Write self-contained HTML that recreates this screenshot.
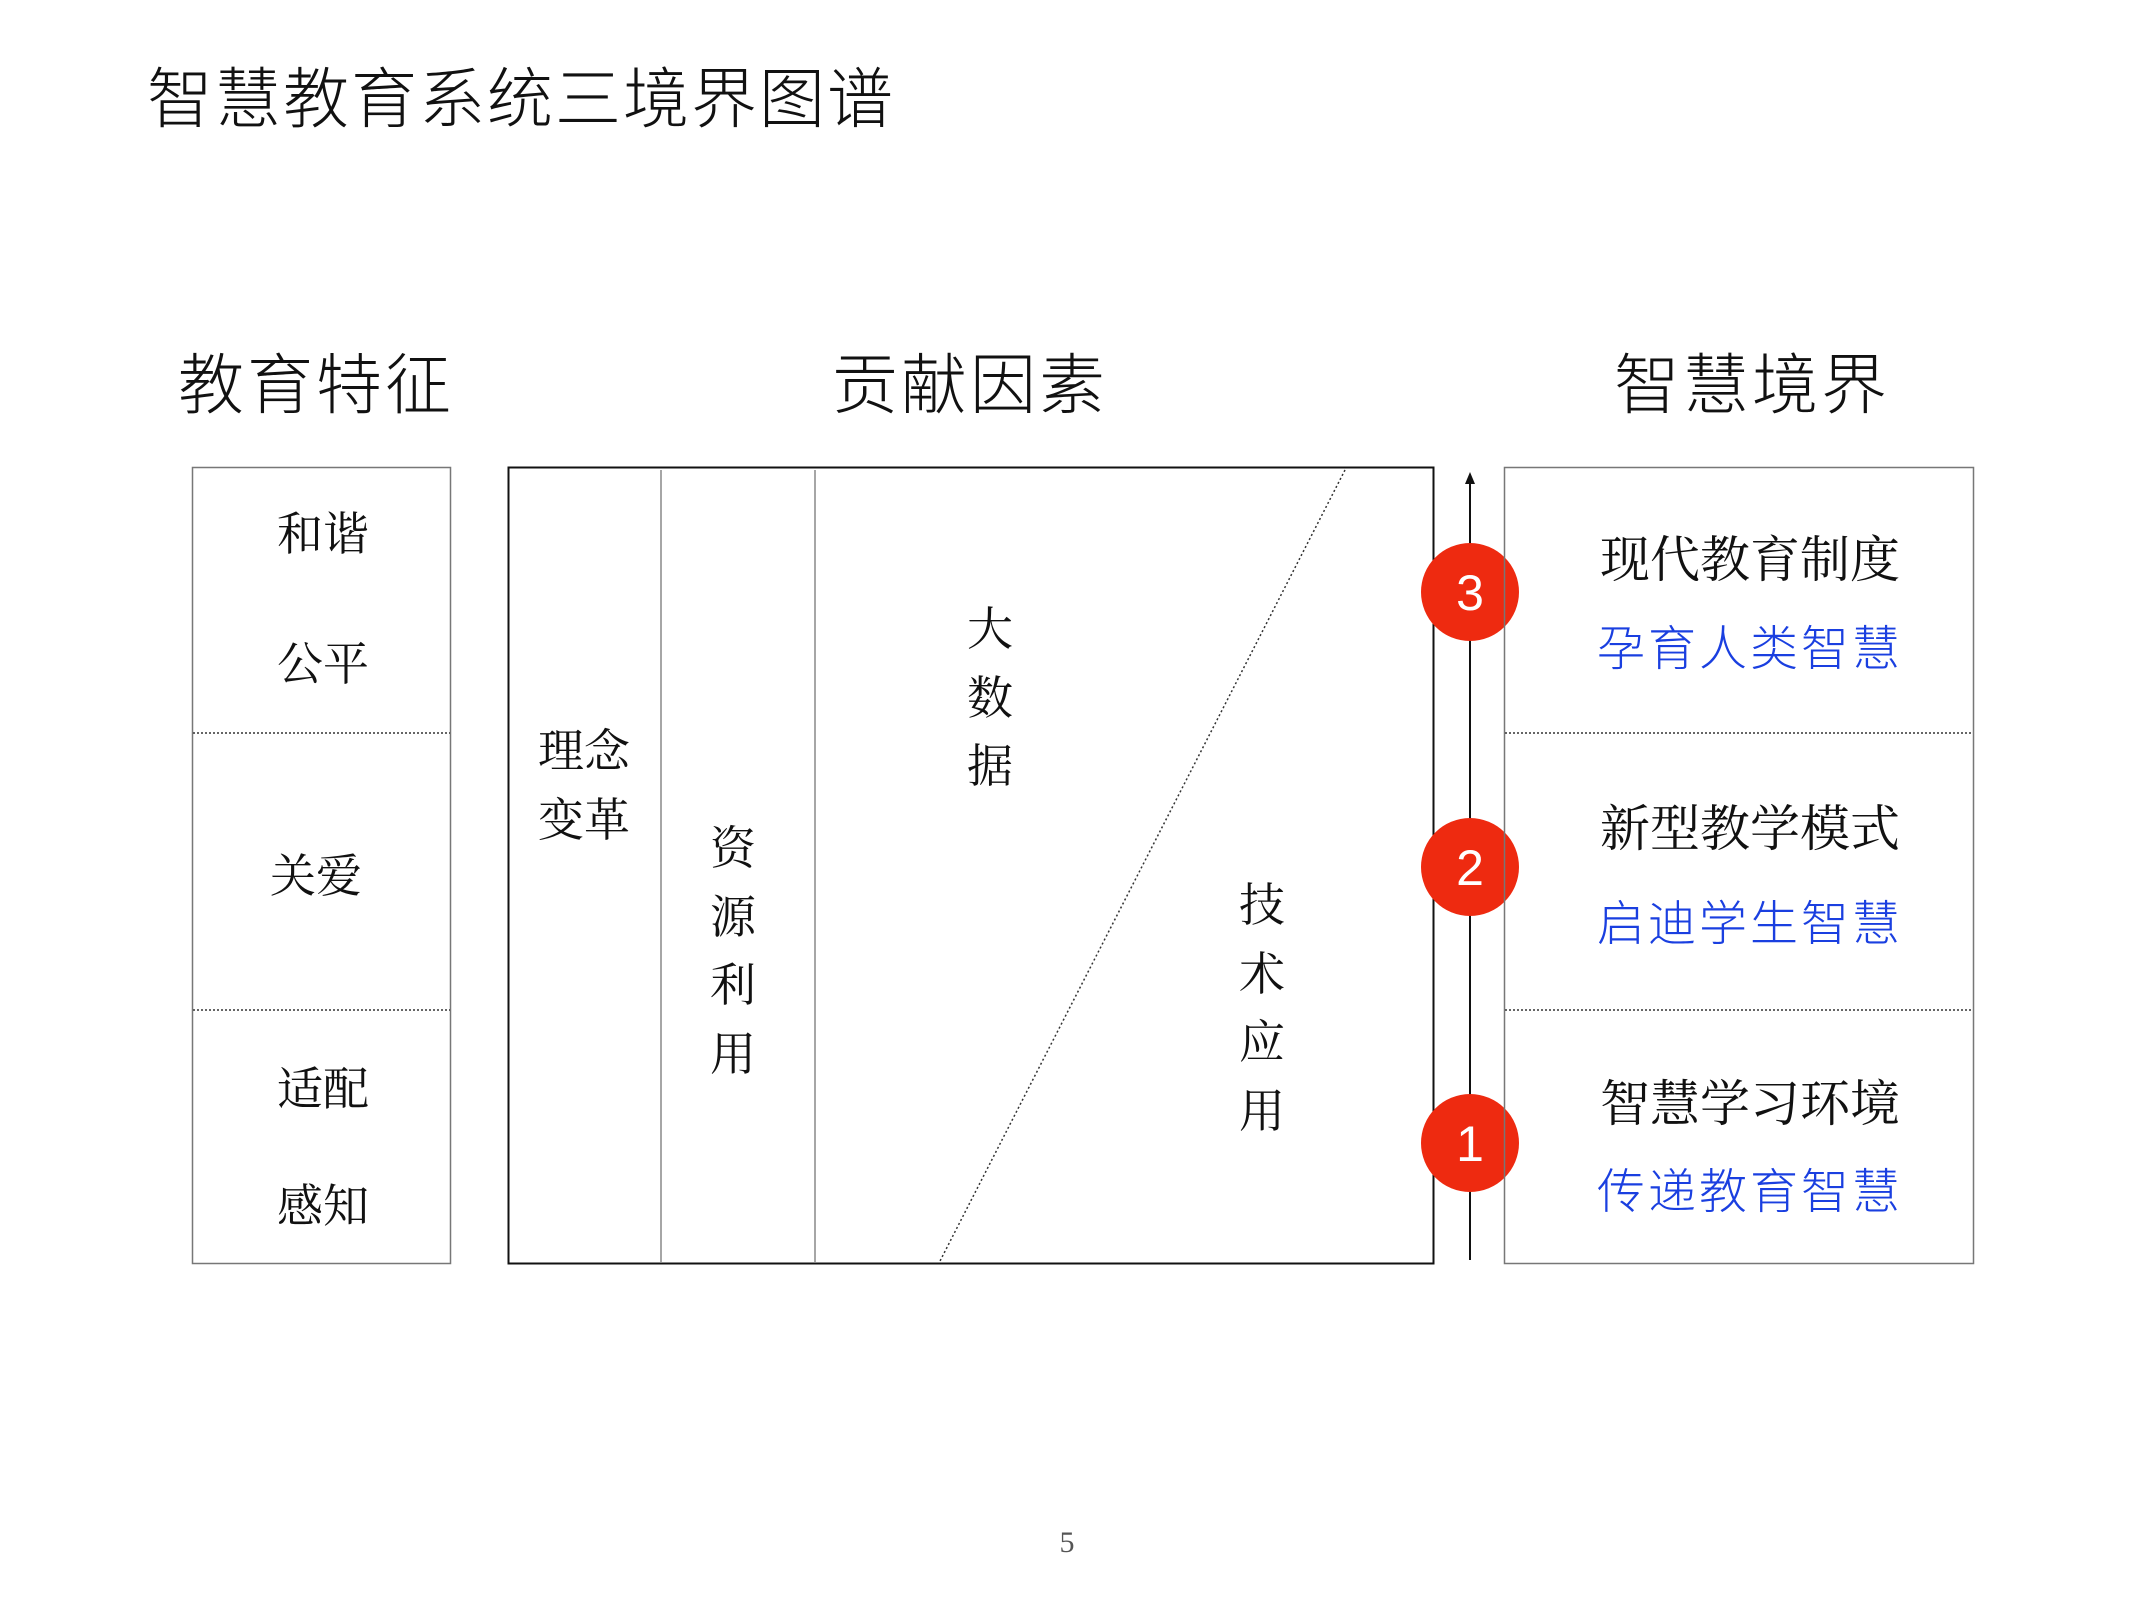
<!DOCTYPE html>
<html><head><meta charset="utf-8"><style>
html,body{margin:0;padding:0;background:#fff;}
svg{display:block}
.s{font-family:"Liberation Serif","Noto Serif CJK SC",serif;font-size:46px;fill:#111;text-anchor:middle}
.s2{font-family:"Liberation Serif","Noto Serif CJK SC",serif;font-size:50px;fill:#111;text-anchor:middle}
.h{font-family:"Liberation Sans","Noto Sans CJK SC",sans-serif;font-weight:300;fill:#111;}
.b{font-family:"Liberation Sans","Noto Sans CJK SC",sans-serif;font-weight:300;font-size:48px;fill:#1a3fe0;text-anchor:middle;letter-spacing:3px}
</style></head><body>
<svg width="2134" height="1600" viewBox="0 0 2134 1600" xmlns="http://www.w3.org/2000/svg">
<text class="h" x="147" y="122" font-size="66" letter-spacing="2">智慧教育系统三境界图谱</text>
<text class="h" x="316" y="408" font-size="66" text-anchor="middle" letter-spacing="3">教育特征</text>
<text class="h" x="970" y="408" font-size="66" text-anchor="middle" letter-spacing="3">贡献因素</text>
<text class="h" x="1752" y="408" font-size="66" text-anchor="middle" letter-spacing="3">智慧境界</text>

<rect x="192.5" y="467.5" width="258" height="796" fill="none" stroke="#777" stroke-width="1.5"/>
<line x1="193" y1="733" x2="450" y2="733" stroke="#333" stroke-width="1.5" stroke-dasharray="2,2"/>
<line x1="193" y1="1010" x2="450" y2="1010" stroke="#333" stroke-width="1.5" stroke-dasharray="2,2"/>
<text class="s" x="323" y="550">和谐</text>
<text class="s" x="323" y="680">公平</text>
<text class="s" x="316" y="892">关爱</text>
<text class="s" x="323" y="1105">适配</text>
<text class="s" x="323" y="1222">感知</text>

<rect x="508.5" y="467.5" width="925" height="796" fill="none" stroke="#111" stroke-width="2"/>
<line x1="661" y1="470" x2="661" y2="1263" stroke="#888" stroke-width="1.5"/>
<line x1="815" y1="470" x2="815" y2="1263" stroke="#888" stroke-width="1.5"/>
<line x1="1345" y1="470" x2="939" y2="1263" stroke="#333" stroke-width="1.5" stroke-dasharray="2,2.5"/>
<text class="s" x="584" y="767">理念</text>
<text class="s" x="584" y="836">变革</text>
<text class="s" x="733" y="864">资</text>
<text class="s" x="733" y="933">源</text>
<text class="s" x="733" y="1001">利</text>
<text class="s" x="733" y="1070">用</text>
<text class="s" x="990" y="645">大</text>
<text class="s" x="990" y="714">数</text>
<text class="s" x="990" y="782">据</text>
<text class="s" x="1262" y="921">技</text>
<text class="s" x="1262" y="990">术</text>
<text class="s" x="1262" y="1058">应</text>
<text class="s" x="1262" y="1127">用</text>

<line x1="1470" y1="482" x2="1470" y2="1260" stroke="#111" stroke-width="2"/>
<polygon points="1470,472 1465,484 1475,484" fill="#111"/>
<g font-family="Liberation Sans,sans-serif" font-size="50" fill="#fff" text-anchor="middle">
<circle cx="1470" cy="592" r="49" fill="#ee2a10"/><text x="1470" y="610">3</text>
<circle cx="1470" cy="867" r="49" fill="#ee2a10"/><text x="1470" y="885">2</text>
<circle cx="1470" cy="1143" r="49" fill="#ee2a10"/><text x="1470" y="1161">1</text>
</g>

<rect x="1504.5" y="467.5" width="469" height="796" fill="none" stroke="#777" stroke-width="1.5"/>
<line x1="1505" y1="733" x2="1973" y2="733" stroke="#333" stroke-width="1.5" stroke-dasharray="2,2"/>
<line x1="1505" y1="1010" x2="1973" y2="1010" stroke="#333" stroke-width="1.5" stroke-dasharray="2,2"/>
<text class="s2" x="1750" y="577">现代教育制度</text>
<text class="b" x="1750" y="665">孕育人类智慧</text>
<text class="s2" x="1750" y="846">新型教学模式</text>
<text class="b" x="1750" y="940">启迪学生智慧</text>
<text class="s2" x="1750" y="1121">智慧学习环境</text>
<text class="b" x="1750" y="1208">传递教育智慧</text>

<text x="1067" y="1552" font-family="Liberation Serif,serif" font-size="30" fill="#555" text-anchor="middle">5</text>
</svg>
</body></html>
